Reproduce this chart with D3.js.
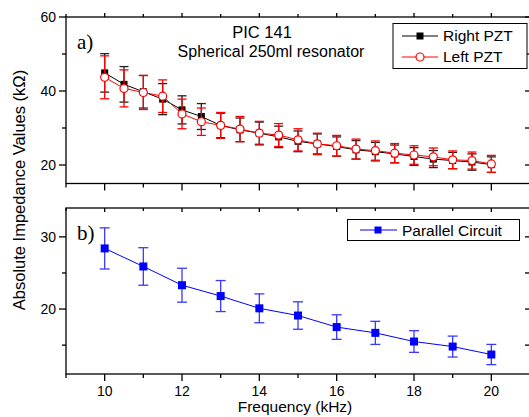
<!DOCTYPE html>
<html>
<head>
<meta charset="utf-8">
<script src="https://cdn.jsdelivr.net/npm/d3@7"></script>
<style>
  body { margin: 0; background: #fff; }
  svg { display: block; font-family: "Liberation Sans", Arial, sans-serif; }
</style>
</head>
<body>
<svg id="chart" width="529" height="417"></svg>
<script>
// panel a) - 0.5 kHz steps
var freqA = [10, 10.5, 11, 11.5, 12, 12.5, 13, 13.5, 14, 14.5, 15, 15.5, 16, 16.5, 17, 17.5, 18, 18.5, 19, 19.5, 20];
var rightPZT = [44.9, 41.8, 39.8, 37.8, 34.9, 33.1, 30.7, 29.5, 28.6, 27.6, 26.4, 25.7, 25.0, 24.1, 23.6, 23.0, 22.3, 21.6, 21.2, 20.8, 20.1];
var rightErr = [5.2, 4.8, 4.4, 4.2, 3.8, 3.5, 3.3, 3.2, 3.0, 2.9, 2.8, 2.7, 2.6, 2.5, 2.5, 2.4, 2.4, 2.3, 2.2, 2.2, 2.1];
var leftPZT = [43.7, 40.7, 39.6, 38.6, 33.8, 31.7, 30.7, 29.7, 28.6, 28.1, 26.8, 25.7, 25.2, 24.3, 23.9, 23.2, 22.7, 22.2, 21.4, 21.2, 20.3];
var leftErr = [5.8, 5.0, 4.6, 4.4, 4.0, 3.7, 3.5, 3.4, 3.2, 3.1, 3.0, 2.9, 2.8, 2.7, 2.6, 2.6, 2.5, 2.4, 2.4, 2.3, 2.3];

// panel b) - 1 kHz steps
var freqB = [10, 11, 12, 13, 14, 15, 16, 17, 18, 19, 20];
var parallel = [28.4, 25.9, 23.3, 21.8, 20.1, 19.1, 17.5, 16.7, 15.5, 14.8, 13.7];
var parallelErr = [2.85, 2.6, 2.35, 2.15, 2.0, 1.9, 1.7, 1.6, 1.5, 1.45, 1.4];

var xTicks = [10, 12, 14, 16, 18, 20];
var yTicksA = [20, 40, 60];
var yTicksB = [20, 30];

var svg = d3.select("#chart");

var x = d3.scaleLinear().domain([9, 21]).range([66, 530]);
var yA = d3.scaleLinear().domain([15, 60]).range([183.5, 17]);
var yB = d3.scaleLinear().domain([11, 34]).range([374, 208]);

var allX = d3.range(9, 22);

function frame(y, minorY, majorY, showXLabels, topOut) {
  var x0 = x.range()[0], x1 = x.range()[1];
  var y0 = y.range()[0], y1 = y.range()[1];
  var g = svg.append("g").attr("stroke", "#000").attr("stroke-width", 1.3);
  g.append("rect").attr("x", x0).attr("y", y1).attr("width", x1 - x0).attr("height", y0 - y1)
    .attr("fill", "none");
  // bottom ticks (outward), top ticks
  allX.forEach(function(v) {
    var len = (v % 2 === 0) ? 7 : 4;
    g.append("line").attr("x1", x(v)).attr("x2", x(v)).attr("y1", y0).attr("y2", y0 + len);
    var tl = (v % 2 === 0) ? 4 : 3;
    g.append("line").attr("x1", x(v)).attr("x2", x(v)).attr("y1", y1).attr("y2", topOut ? y1 - tl : y1 + tl);
  });
  // left ticks outward, right ticks inward
  minorY.forEach(function(v) {
    g.append("line").attr("x1", x0).attr("x2", x0 - 4).attr("y1", y(v)).attr("y2", y(v));
    g.append("line").attr("x1", x1).attr("x2", x1 - 5).attr("y1", y(v)).attr("y2", y(v));
  });
  majorY.forEach(function(v) {
    g.append("line").attr("x1", x0).attr("x2", x0 - 7).attr("y1", y(v)).attr("y2", y(v));
    g.append("line").attr("x1", x1).attr("x2", x1 - 5).attr("y1", y(v)).attr("y2", y(v));
  });
  svg.append("g").selectAll("text").data(majorY).enter().append("text")
    .attr("x", x0 - 10).attr("y", function(d) { return y(d) + 5; })
    .attr("text-anchor", "end").attr("font-size", 14).text(function(d) { return d; });
  if (showXLabels) {
    svg.append("g").selectAll("text").data(xTicks).enter().append("text")
      .attr("x", function(d) { return x(d); }).attr("y", 396)
      .attr("text-anchor", "middle").attr("font-size", 14).text(function(d) { return d; });
  }
}

frame(yA, [30, 50], yTicksA, false, true);
frame(yB, [15, 25], yTicksB, true, false);

function series(xs, ys, es, y, color, errColor, capW) {
  var g = svg.append("g");
  var eb = g.append("g").attr("stroke", errColor).attr("stroke-width", 1.3);
  xs.forEach(function(v, i) {
    var top = y(ys[i] + es[i]), bot = y(ys[i] - es[i]), cx = x(v);
    eb.append("line").attr("x1", cx).attr("x2", cx).attr("y1", top).attr("y2", bot);
    eb.append("line").attr("x1", cx - capW / 2).attr("x2", cx + capW / 2).attr("y1", top).attr("y2", top);
    eb.append("line").attr("x1", cx - capW / 2).attr("x2", cx + capW / 2).attr("y1", bot).attr("y2", bot);
  });
  var line = d3.line().x(function(d) { return x(d[0]); }).y(function(d) { return y(d[1]); });
  g.append("path").datum(d3.zip(xs, ys)).attr("d", line)
    .attr("fill", "none").attr("stroke", color).attr("stroke-width", 1);
  return g;
}

var gR = series(freqA, rightPZT, rightErr, yA, "#000", "#222", 9);
var gL = series(freqA, leftPZT, leftErr, yA, "#f00", "#f00", 9);
gR.selectAll("rect.m").data(d3.zip(freqA, rightPZT)).enter().append("rect")
  .attr("x", function(d) { return x(d[0]) - 3.5; }).attr("y", function(d) { return yA(d[1]) - 3.5; })
  .attr("width", 7).attr("height", 7).attr("fill", "#000");
gL.selectAll("circle").data(d3.zip(freqA, leftPZT)).enter().append("circle")
  .attr("cx", function(d) { return x(d[0]); }).attr("cy", function(d) { return yA(d[1]); })
  .attr("r", 4).attr("fill", "#fff").attr("stroke", "#f00").attr("stroke-width", 1.2);

var gB = series(freqB, parallel, parallelErr, yB, "#00f", "#3a3aff", 10);
gB.selectAll("rect.m").data(d3.zip(freqB, parallel)).enter().append("rect")
  .attr("x", function(d) { return x(d[0]) - 4; }).attr("y", function(d) { return yB(d[1]) - 4; })
  .attr("width", 8).attr("height", 8).attr("fill", "#00f");

// legend a)
var la = svg.append("g");
la.append("rect").attr("x", 393).attr("y", 23.5).attr("width", 134).attr("height", 45)
  .attr("fill", "#fff").attr("stroke", "#000").attr("stroke-width", 1);
la.append("line").attr("x1", 402).attr("x2", 438).attr("y1", 36).attr("y2", 36).attr("stroke", "#000");
la.append("rect").attr("x", 416.5).attr("y", 32.5).attr("width", 7).attr("height", 7).attr("fill", "#000");
la.append("text").attr("x", 443).attr("y", 41).attr("font-size", 15.5).text("Right PZT");
la.append("line").attr("x1", 402).attr("x2", 438).attr("y1", 57).attr("y2", 57).attr("stroke", "#f00");
la.append("circle").attr("cx", 420).attr("cy", 57).attr("r", 4).attr("fill", "#fff").attr("stroke", "#f00").attr("stroke-width", 1.2);
la.append("text").attr("x", 443).attr("y", 62).attr("font-size", 15.5).text("Left PZT");

// legend b)
var lb = svg.append("g");
lb.append("rect").attr("x", 347.5).attr("y", 219.5).attr("width", 172).attr("height", 21)
  .attr("fill", "#fff").attr("stroke", "#000").attr("stroke-width", 1);
lb.append("line").attr("x1", 360).attr("x2", 397).attr("y1", 230).attr("y2", 230).attr("stroke", "#00f");
lb.append("rect").attr("x", 374.5).attr("y", 226.5).attr("width", 7).attr("height", 7).attr("fill", "#00f");
lb.append("text").attr("x", 402).attr("y", 235.5).attr("font-size", 15.5).text("Parallel Circuit");

// titles and panel labels
svg.append("text").attr("x", 262).attr("y", 38).attr("text-anchor", "middle").attr("font-size", 16.5).text("PIC 141");
svg.append("text").attr("x", 271).attr("y", 57).attr("text-anchor", "middle").attr("font-size", 16).text("Spherical 250ml resonator");
svg.append("text").attr("x", 77).attr("y", 49).attr("font-family", "Liberation Serif, Times New Roman, serif")
  .attr("font-size", 21).text("a)");
svg.append("text").attr("x", 77).attr("y", 240).attr("font-family", "Liberation Serif, Times New Roman, serif")
  .attr("font-size", 21).text("b)");

svg.append("text").attr("x", 295).attr("y", 412).attr("text-anchor", "middle").attr("font-size", 15.5).text("Frequency (kHz)");
svg.append("text").attr("transform", "translate(25,190) rotate(-90)").attr("text-anchor", "middle")
  .attr("font-size", 16.5).text("Absolute Impedance Values (kΩ)");
</script>
</body>
</html>
